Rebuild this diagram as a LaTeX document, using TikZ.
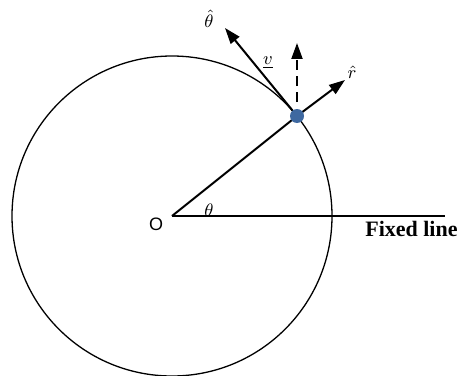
\documentclass[tikz,border=0pt]{standalone}
\usepackage{fontspec}
\setmainfont{Liberation Serif}
\newfontfamily\labelsans{Liberation Sans}
\usetikzlibrary{arrows.meta}
\definecolor{dotblue}{RGB}{62,104,160}

\begin{document}
\begin{tikzpicture}[
  x=0.5pt, y=0.5pt,
  rim/.style={line width=0.65pt},
  rod/.style={line width=1pt},
  vec/.style={line width=1pt, -{Triangle[length=8pt,width=5.5pt]}},
  dot/.style={circle, fill=dotblue, inner sep=0pt, minimum size=7pt},
  lbl/.style={inner sep=1pt, font=\small}
]
\useasboundingbox (-172,-159) rectangle (287,216);

\coordinate (O) at (0,0);
\coordinate (P) at (125,100);
\coordinate (far) at (273,0);
\coordinate (thtip) at (53,188);
\coordinate (rtip) at (173,136);
\coordinate (uptip) at (125,173);

\draw[rim] (O) circle (160);
\draw[rod] (O) -- (far);
\draw[rod] (O) -- (P);

\draw[vec] (P) -- (thtip);
\draw[vec] (P) -- (rtip);
\draw[vec, dashed, dash pattern=on 5pt off 3pt] ([yshift=7]P) -- (uptip);

\node[dot] (Pdot) at (P) {};

\node[lbl, font=\small\labelsans] (Olbl) at (-16,-8) {O};
\node[lbl] (thlbl) at (37,6) {$\theta$};
\node[lbl] (thhat) at (37,197) {$\hat{\theta}$};
\node[lbl] (rhat) at (180,144) {$\hat{r}$};
\node[lbl] (vlbl) at (96,153) {\underline{$v$}};
\node[lbl, font=\fontsize{11}{13}\selectfont\bfseries, anchor=north east] (fixed) at (288,-3) {Fixed line};
\end{tikzpicture}
\end{document}
